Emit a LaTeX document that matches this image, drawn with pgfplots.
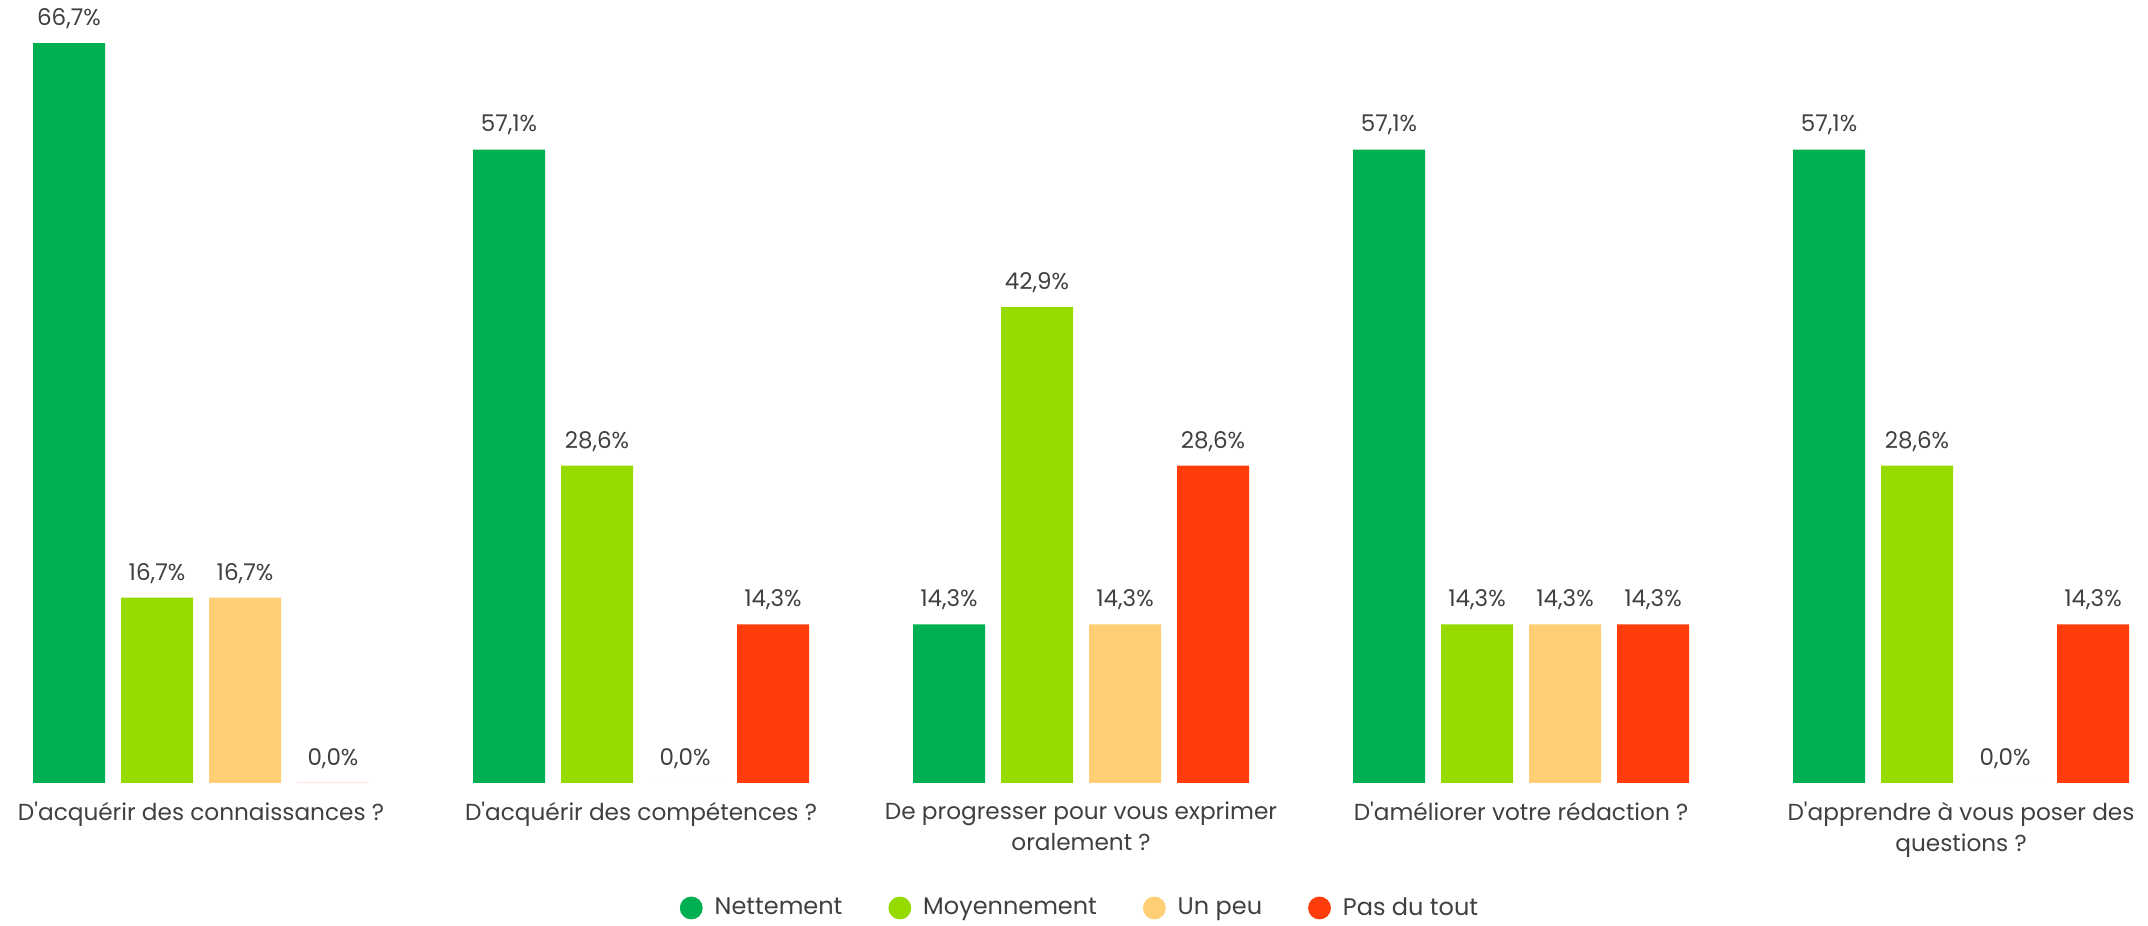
\documentclass[border=0pt]{standalone}
\usepackage{fontspec}
\setmainfont{Poppins}
\usepackage{pgfplots}
\pgfplotsset{compat=1.18}
\definecolor{nett}{HTML}{00AF50}
\definecolor{moy}{HTML}{96DA00}
\definecolor{peu}{HTML}{FFCE75}
\definecolor{pas}{HTML}{FF3D0A}
\definecolor{txt}{HTML}{404040}
\newcommand{\ap}{\textquotesingle}
\begin{document}
\begin{tikzpicture}
\useasboundingbox (0,0) rectangle (1074bp,463bp);
\begin{axis}[
  at={(0bp,463bp)}, anchor=north west,
  scale only axis, width=1074bp, height=391.5bp,
  xmin=-0.456818, xmax=4.425, ymin=0, ymax=70.58,
  axis line style={draw=none}, ytick=\empty,
  xtick={0,1,2,3,4}, major tick length=0pt,
  xticklabels={{D\ap acquérir des connaissances ?},{D\ap acquérir des compétences ?},{De progresser pour vous exprimer\\oralement ?},{D\ap améliorer votre rédaction ?},{D\ap apprendre à vous poser des\\questions ?}},
  xticklabel style={align=center, font=\fontsize{11.6bp}{15.5bp}\selectfont, text=txt, yshift=-6bp},
  ybar, bar width=36bp,
  clip=false,
  nodes near coords={\pgfmathprintnumber{\pgfplotspointmeta}\%},
  every node near coord/.append style={font=\fontsize{11.5bp}{13bp}\selectfont, text=txt, anchor=south, inner sep=0pt, yshift=7bp},
  /pgf/number format/fixed, /pgf/number format/fixed zerofill, /pgf/number format/precision=1, /pgf/number format/use comma, /pgf/number format/assume math mode=true,
  legend columns=4,
  legend cell align=left,
  legend style={at={(axis cs:2,0)}, anchor=center, yshift=-62.5bp, draw=none, fill=none, font=\fontsize{12bp}{14bp}\selectfont, text=txt, /tikz/every even column/.append style={column sep=21bp}, /tikz/every odd column/.append style={column sep=4bp}},
]
\addplot[fill=nett, draw=none, bar shift=-66bp, forget plot] coordinates {(0,66.7) (1,57.1) (2,14.3) (3,57.1) (4,57.1)};
\addplot[fill=moy, draw=none, bar shift=-22bp, forget plot] coordinates {(0,16.7) (1,28.6) (2,42.9) (3,14.3) (4,28.6)};
\addplot[fill=peu, draw=none, bar shift=22bp, forget plot] coordinates {(0,16.7) (1,0) (2,14.3) (3,14.3) (4,0)};
\addplot[fill=pas, draw=none, bar shift=66bp, forget plot] coordinates {(0,0) (1,14.3) (2,28.6) (3,14.3) (4,14.3)};
\addlegendimage{legend image code/.code={\fill[nett] (5.5bp,0bp) circle (5.5bp);}}
\addlegendentry{Nettement}
\addlegendimage{legend image code/.code={\fill[moy] (5.5bp,0bp) circle (5.5bp);}}
\addlegendentry{Moyennement}
\addlegendimage{legend image code/.code={\fill[peu] (5.5bp,0bp) circle (5.5bp);}}
\addlegendentry{Un peu}
\addlegendimage{legend image code/.code={\fill[pas] (5.5bp,0bp) circle (5.5bp);}}
\addlegendentry{Pas du tout}
\end{axis}
\end{tikzpicture}
\end{document}
